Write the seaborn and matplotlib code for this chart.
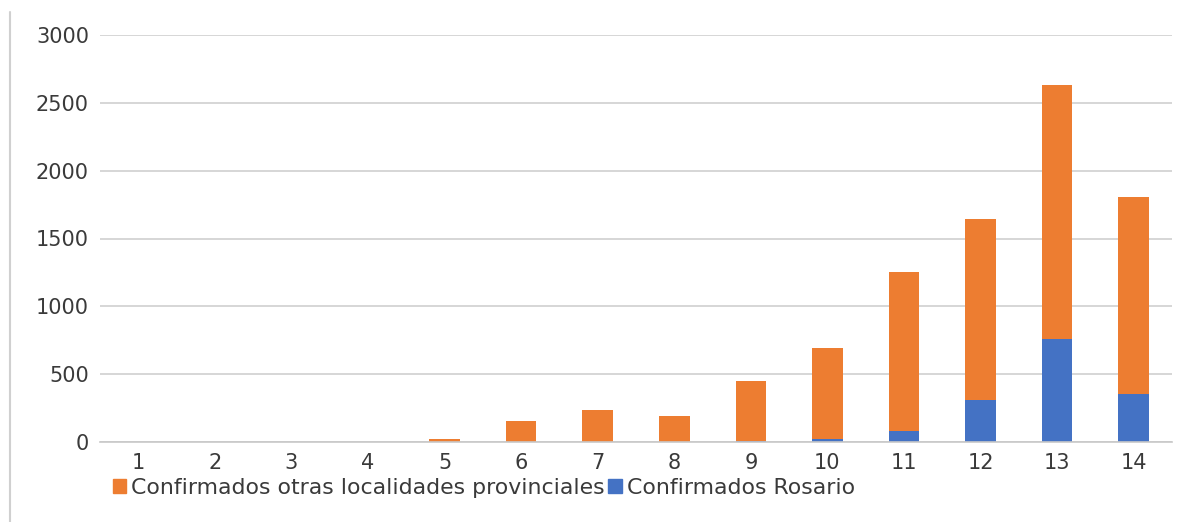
import numpy as np
import pandas as pd
import matplotlib
matplotlib.use('Agg')
import matplotlib.pyplot as plt
import seaborn as sns
from matplotlib.patches import Patch

# datos
semanas = [str(i) for i in range(1, 15)]
rosario = [0, 0, 0, 0, 0, 0, 0, 0, 5, 20, 80, 310, 760, 355]
otras = [0, 0, 0, 0, 20, 155, 236, 190, 445, 673, 1173, 1333, 1870, 1450]

COLOR_OTRAS = '#ED7D31'
COLOR_ROSARIO = '#4472C4'
COLOR_TEXTO = '#3a3a3a'

df = pd.DataFrame({'semana': semanas, 'rosario': rosario, 'otras': otras})
df['total'] = df['rosario'] + df['otras']

sns.set_style('white')
plt.rcParams['font.family'] = ['DejaVu Sans']

fig = plt.figure(figsize=(11.91, 5.22), dpi=100)
ax = fig.add_axes([100 / 1191, 80 / 522, 1072 / 1191, 407 / 522])

# barras apiladas: total (naranja) detras, Rosario (azul) delante
sns.barplot(data=df, x='semana', y='total', color=COLOR_OTRAS, width=0.4,
            saturation=1, linewidth=0, ax=ax, zorder=3)
sns.barplot(data=df, x='semana', y='rosario', color=COLOR_ROSARIO, width=0.4,
            saturation=1, linewidth=0, ax=ax, zorder=4)

ax.set_ylim(0, 3000)
ax.set_yticks(np.arange(0, 3001, 500))
ax.set_xlim(-0.5, 13.5)
ax.grid(axis='y', color='#d0d0d0', linewidth=1.2, zorder=0)
for s in ['top', 'right', 'left']:
    ax.spines[s].set_visible(False)
ax.spines['bottom'].set_color('#c8c8c8')
ax.spines['bottom'].set_linewidth(1.2)
ax.spines['bottom'].set_zorder(5)
ax.set_xlabel('')
ax.set_ylabel('')
ax.tick_params(axis='both', length=0, labelsize=15, colors=COLOR_TEXTO)
ax.tick_params(axis='x', pad=8)
ax.tick_params(axis='y', pad=8)

handles = [Patch(color=COLOR_OTRAS, label='Confirmados otras localidades provinciales'),
           Patch(color=COLOR_ROSARIO, label='Confirmados Rosario')]
fig.legend(handles=handles, loc='upper left', bbox_to_anchor=(104 / 1191, 1 - 469 / 522),
           ncol=2, frameon=False, fontsize=15.8, handlelength=0.6, handleheight=0.6,
           handletextpad=0.25, columnspacing=0.15, borderaxespad=0, labelcolor=COLOR_TEXTO)

# linea de borde a la izquierda
fig.add_artist(plt.Line2D([10 / 1191, 10 / 1191], [0, 1 - 12 / 522], color='#d0d0d0', linewidth=1.5))

fig.savefig('out.png', dpi=100)
